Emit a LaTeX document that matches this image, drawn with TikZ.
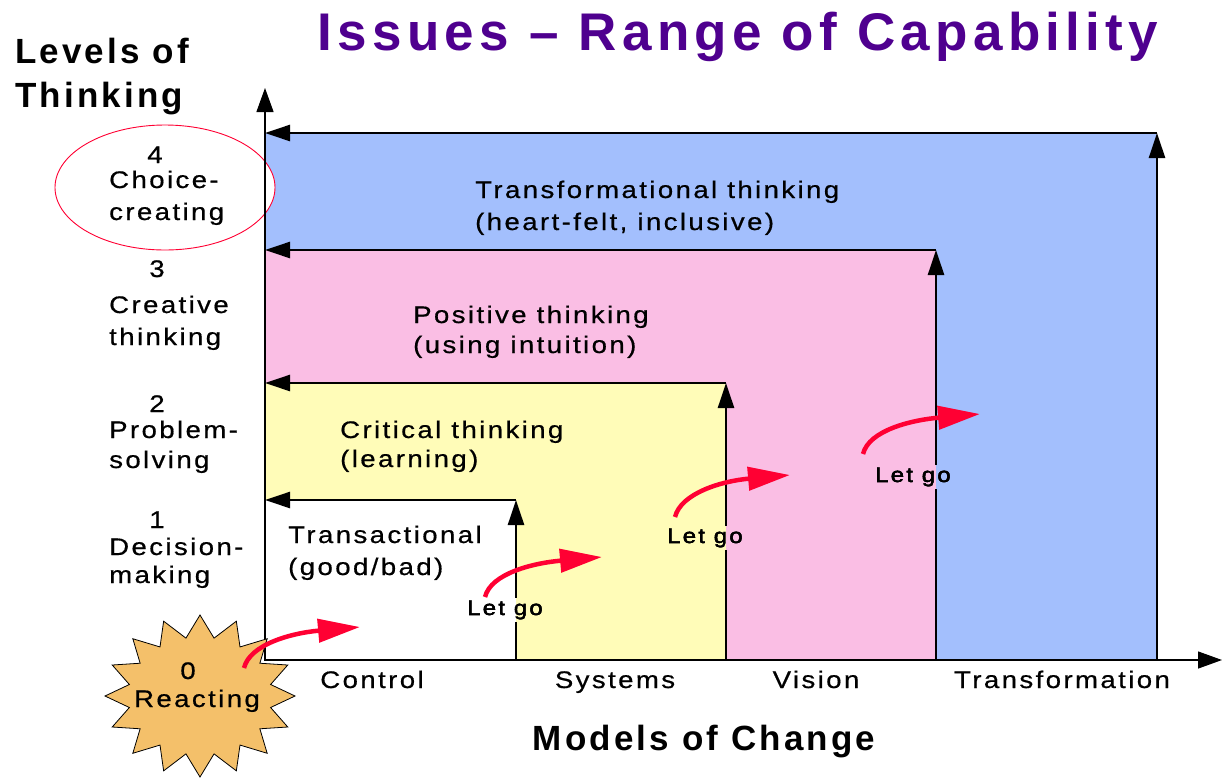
\documentclass[tikz,border=0pt]{standalone}
\usepackage{fontspec}
\setmainfont{Liberation Sans}
\newfontfamily\labfont[FakeStretch=1.15,LetterSpace=10,FakeBold=0.6]{Liberation Sans}
\newfontfamily\hdfont[LetterSpace=9]{Liberation Sans}
\newfontfamily\ttlfont[LetterSpace=10]{Liberation Sans}
\usetikzlibrary{arrows.meta,shapes.geometric}
\definecolor{blueR}{HTML}{A3BFFD}
\definecolor{pinkR}{HTML}{FABEE4}
\definecolor{yelR}{HTML}{FFFCB8}
\definecolor{titleC}{HTML}{4F008F}
\definecolor{starC}{HTML}{F4C06A}
\definecolor{redA}{HTML}{FF0033}
\begin{document}
\begin{tikzpicture}[x=1pt,y=-1pt,
  edge/.style={line width=2.5pt, -{Triangle[length=25pt,width=16pt]}},
  axisline/.style={line width=1.3pt, -{Triangle[length=24pt,width=17pt]}},
  redarrow/.style={redA, line width=4.5pt, -{Triangle[length=42pt,width=23pt]}},
  lab/.style={font=\labfont\fontsize{24}{31}\selectfont, inner sep=0pt, anchor=base west},
  num/.style={font=\labfont\fontsize{24}{31}\selectfont, inner sep=0pt, anchor=base},
  axlab/.style={font=\labfont\fontsize{24}{31}\selectfont, inner sep=0pt, anchor=base},
  letgo/.style={font=\labfont\fontsize{21}{25}\selectfont, inner sep=2pt, anchor=base west},
  heading/.style={font=\hdfont\bfseries\fontsize{35}{40}\selectfont, inner sep=0pt},
]
\useasboundingbox (0,0) rectangle (1224,777);

% corner coordinates
\coordinate (bl) at (265,660);
\coordinate (yt) at (265,88);
\coordinate (xt) at (1222,660);
\coordinate (br1) at (516,660); \coordinate (tr1) at (516,500); \coordinate (tl1) at (265,500);
\coordinate (br2) at (726,660); \coordinate (tr2) at (726,383); \coordinate (tl2) at (265,383);
\coordinate (br3) at (936,660); \coordinate (tr3) at (936,250); \coordinate (tl3) at (265,250);
\coordinate (br4) at (1157,660); \coordinate (tr4) at (1157,133); \coordinate (tl4) at (265,133);

% region fills
\fill[blueR] (bl) rectangle (tr4);
\fill[pinkR] (bl) rectangle (tr3);
\fill[yelR] (bl) rectangle (tr2);
\fill[white] (bl) rectangle (tr1);

% ellipse around level 4
\node[ellipse, draw=redA, line width=0.9pt, fill=white, minimum width=220pt, minimum height=125pt, inner sep=0pt] (e4) at (165,187.5) {};

% axes
\draw[axisline] (bl) -- (yt);
\draw[axisline] (bl) -- (xt);
\draw[line width=2.5pt] (tl4) -- (bl) -- (br4);

% region edges
\draw[edge] (br1) -- (tr1);
\draw[edge] (tr1) -- (tl1);
\draw[edge] (br2) -- (tr2);
\draw[edge] (tr2) -- (tl2);
\draw[edge] (br3) -- (tr3);
\draw[edge] (tr3) -- (tl3);
\draw[edge] (br4) -- (tr4);
\draw[edge] (tr4) -- (tl4);

% starburst
\begin{scope}[shift={(200,696)}]
\draw[fill=starC, line width=0.8pt, line join=miter]
  (0:95pt and 81pt)
  \foreach \i in {1,...,31}{ -- ({\i*11.25}:{(83.5+11.5*cos(\i*180))*1pt} and {(70+11*cos(\i*180))*1pt}) }
  -- cycle;
\end{scope}
\node[num] (n0) at (188,679) {0};
\node[num] (react) at (197,707) {Reacting};

% red "let go" arrows
\coordinate (s1) at (244,668); \coordinate (t1) at (360,627);
\coordinate (s2) at (485,597); \coordinate (t2) at (602,557);
\coordinate (s3) at (675,517); \coordinate (t3) at (790,475);
\coordinate (s4) at (863,454); \coordinate (t4) at (980,414);
\draw[redarrow] (s1) .. controls +(6,-24) and +(-68,6) .. (t1);
\draw[redarrow] (s2) .. controls +(6,-24) and +(-68,6) .. (t2);
\draw[redarrow] (s3) .. controls +(6,-24) and +(-68,6) .. (t3);
\draw[redarrow] (s4) .. controls +(6,-24) and +(-68,6) .. (t4);

% Let go labels with gaps in the lines
\coordinate (xl1) at (516,0);
\coordinate (xl2) at (726,0);
\coordinate (xl3) at (936,0);
\node[letgo] (lg1) at (465,615) {Let go};
\node[letgo] (lg2) at (665,543) {Let go};
\node[letgo] (lg3) at (873,482) {Let go};
\fill[white] (lg1.north -| xl1) ++(-2,0) rectangle (lg1.south -| xl1);
\fill[yelR] (lg1.south -| xl1) ++(2,0) rectangle (lg1.north -| xl1);
\fill[yelR] (lg2.north -| xl2) ++(-2,0) rectangle (lg2.south -| xl2);
\fill[pinkR] (lg2.south -| xl2) ++(2,0) rectangle (lg2.north -| xl2);
\fill[pinkR] (lg3.north -| xl3) ++(-2,0) rectangle (lg3.south -| xl3);
\fill[blueR] (lg3.south -| xl3) ++(2,0) rectangle (lg3.north -| xl3);
\node[letgo] at (lg1.base west) {Let go};
\node[letgo] at (lg2.base west) {Let go};
\node[letgo] at (lg3.base west) {Let go};

% title and headings
\node[font=\ttlfont\bfseries\fontsize{53}{60}\selectfont, text=titleC, inner sep=0pt, anchor=base] (title) at (738,50) {Issues – Range of Capability};
\node[heading, anchor=base west] (lev1) at (15,63) {Levels of};
\node[heading, anchor=base west] (lev2) at (15,107) {Thinking};
\node[heading, anchor=base] (models) at (704,750) {Models of Change};

% level labels
\node[num] (n4) at (155,163) {4};
\node[lab] (l4a) at (109,188) {Choice-};
\node[lab] (l4b) at (109,220) {creating};
\node[num] (n3) at (157,277) {3};
\node[lab] (l3a) at (109,313) {Creative};
\node[lab] (l3b) at (109,345) {thinking};
\node[num] (n2) at (157,412) {2};
\node[lab] (l2a) at (109,438) {Problem-};
\node[lab] (l2b) at (109,468) {solving};
\node[num] (n1) at (157,528) {1};
\node[lab] (l1a) at (109,555) {Decision-};
\node[lab] (l1b) at (109,583) {making};

% region labels
\node[lab] (r1a) at (288,543) {Transactional};
\node[lab] (r1b) at (288,575) {(good/bad)};
\node[lab] (r2a) at (340,438) {Critical thinking};
\node[lab] (r2b) at (340,467) {(learning)};
\node[lab] (r3a) at (413,323) {Positive thinking};
\node[lab] (r3b) at (413,353) {(using intuition)};
\node[lab] (r4a) at (475,198) {Transformational thinking};
\node[lab] (r4b) at (475,230) {(heart-felt, inclusive)};

% x-axis labels
\node[axlab] (c1) at (372,688) {Control};
\node[axlab] (c2) at (615,688) {Systems};
\node[axlab] (c3) at (816,688) {Vision};
\node[axlab] (c4) at (1062,688) {Transformation};
\end{tikzpicture}
\end{document}
